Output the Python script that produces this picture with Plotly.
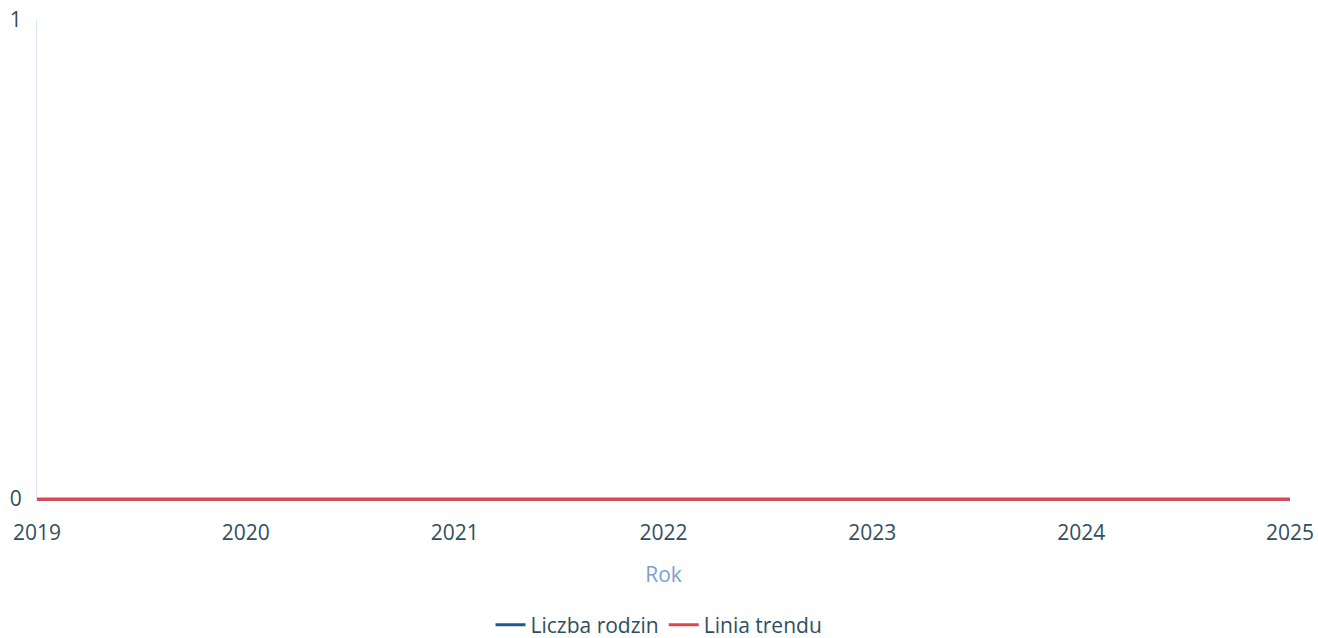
import plotly.graph_objects as go

years = [2019, 2020, 2021, 2022, 2023, 2024, 2025]
liczba_rodzin = [0, 0, 0, 0, 0, 0, 0]
linia_trendu = [0, 0, 0, 0, 0, 0, 0]

fig = go.Figure()
fig.add_trace(go.Scatter(x=years, y=liczba_rodzin, mode="lines", name="Liczba rodzin",
                         line=dict(color="#1f5a8a", width=3)))
fig.add_trace(go.Scatter(x=years, y=linia_trendu, mode="lines", name="Linia trendu",
                         line=dict(color="#e0464c", width=3)))

fig.update_layout(
    width=1318, height=638,
    margin=dict(l=37, r=28, t=20, b=136),
    paper_bgcolor="white", plot_bgcolor="white",
    font=dict(family="Open Sans", size=21, color="#2f4f5f"),
    showlegend=True,
    legend=dict(orientation="h", x=0.5, xanchor="center", xref="container",
                y=1 - 625 / 638, yanchor="middle", yref="container",
                font=dict(size=21, color="#2f4f5f"), itemwidth=30),
    xaxis=dict(range=[2019, 2025], tickmode="array", tickvals=years, automargin=False,
               ticktext=[str(y) for y in years], showgrid=False, zeroline=False,
               showline=False, ticks="outside", ticklen=12, tickcolor="rgba(0,0,0,0)",
               title=dict(text="Rok", font=dict(size=21, color="#7aa0d4"), standoff=22)),
    yaxis=dict(range=[-0.006, 1], tickvals=[0, 1], showgrid=False, zeroline=False, automargin=False,
               showline=True, linecolor="#d6e6f4", linewidth=1, ticks="", ticklabelstandoff=10),
)

fig.write_html("out.html", post_script="document.body.style.margin='0px';",
               config={"displayModeBar": False})
